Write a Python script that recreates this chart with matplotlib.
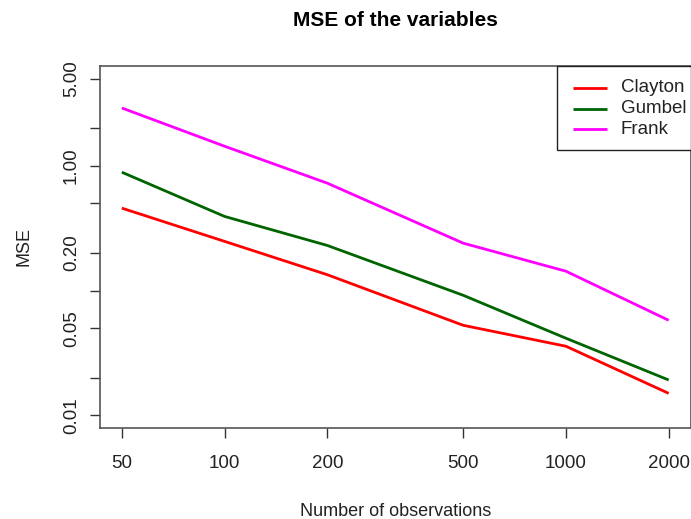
import matplotlib
matplotlib.use("Agg")
import matplotlib.pyplot as plt
from matplotlib.ticker import FixedLocator, FixedFormatter, NullLocator
from matplotlib.lines import Line2D
from matplotlib.patches import Rectangle

plt.rcParams['font.family'] = ['Liberation Sans', 'DejaVu Sans']

n_obs = [50, 100, 200, 500, 1000, 2000]
clayton = [0.458, 0.248, 0.134, 0.0527, 0.0358, 0.0150]
gumbel = [0.889, 0.393, 0.230, 0.0917, 0.0415, 0.0192]
frank = [2.91, 1.436, 0.726, 0.240, 0.143, 0.0578]

series_names = ["Clayton", "Gumbel", "Frank"]
series_colors = ["#FF0000", "#006400", "#FF00FF"]

y_ticks = [5, 2, 1, 0.5, 0.2, 0.1, 0.05, 0.02, 0.01]
y_labels = ["5.00", "", "1.00", "", "0.20", "", "0.05", "", "0.01"]
x_labels = ["50", "100", "200", "500", "1000", "2000"]

W, H = 691, 519
fig = plt.figure(figsize=(W / 100, H / 100), dpi=100)
left, right, top, bottom = 100, 690.5, 65.7, 428.3
ax = fig.add_axes([left / W, 1 - bottom / H, (right - left) / W, (bottom - top) / H])

for vals, name, col in zip([clayton, gumbel, frank], series_names, series_colors):
    ax.plot(n_obs, vals, color=col, lw=2.0, label=name, solid_capstyle='butt')

ax.set_xscale('log')
ax.set_yscale('log')
pad = 10 ** 0.064
ax.set_xlim(50 / pad, 2000 * pad)
ax.set_ylim(0.00787, 6.35)

ax.xaxis.set_major_locator(FixedLocator(n_obs))
ax.xaxis.set_major_formatter(FixedFormatter(x_labels))
ax.xaxis.set_minor_locator(NullLocator())
ax.yaxis.set_major_locator(FixedLocator(y_ticks))
ax.yaxis.set_major_formatter(FixedFormatter(y_labels))
ax.yaxis.set_minor_locator(NullLocator())

ax.tick_params(axis='both', direction='out', length=7.5, width=1, color='#333333',
               labelsize=13.5, labelcolor='#222222')
ax.tick_params(axis='x', pad=12)
ax.tick_params(axis='y', pad=7)
for lab in ax.get_yticklabels():
    lab.set_rotation(90)
    lab.set_va('center')

for s in ax.spines.values():
    s.set_color('#555555')
    s.set_linewidth(1.2)

ax.set_xlabel("Number of observations", fontsize=13, color='#222222', labelpad=22)
ax.set_ylabel("MSE", fontsize=13, color='#222222', labelpad=22)
fig.text((left + right) / 2 / W, 1 - 21 / H, "MSE of the variables", ha='center', va='center',
         fontsize=15, fontweight='bold')

# legend (R-style, top-right)
def fx(px):
    return px / W

def fy(py):
    return 1 - py / H

box_l, box_r, box_t, box_b = 557, 690.5, 65.7, 150
fig.add_artist(Rectangle((fx(box_l), fy(box_b)), fx(box_r) - fx(box_l), fy(box_t) - fy(box_b),
                         transform=fig.transFigure, facecolor='white', edgecolor='#222222',
                         lw=1.0, zorder=5))
row_y = [88, 108.5, 129]
for ry, name, col in zip(row_y, series_names, series_colors):
    fig.add_artist(Line2D([fx(573), fx(607)], [fy(ry), fy(ry)], transform=fig.transFigure,
                          color=col, lw=2.0, zorder=6, solid_capstyle='butt'))
    fig.text(fx(621), fy(ry), name, ha='left', va='center', fontsize=13.5,
             color='#222222', zorder=6)

fig.savefig("out.png", dpi=100)
